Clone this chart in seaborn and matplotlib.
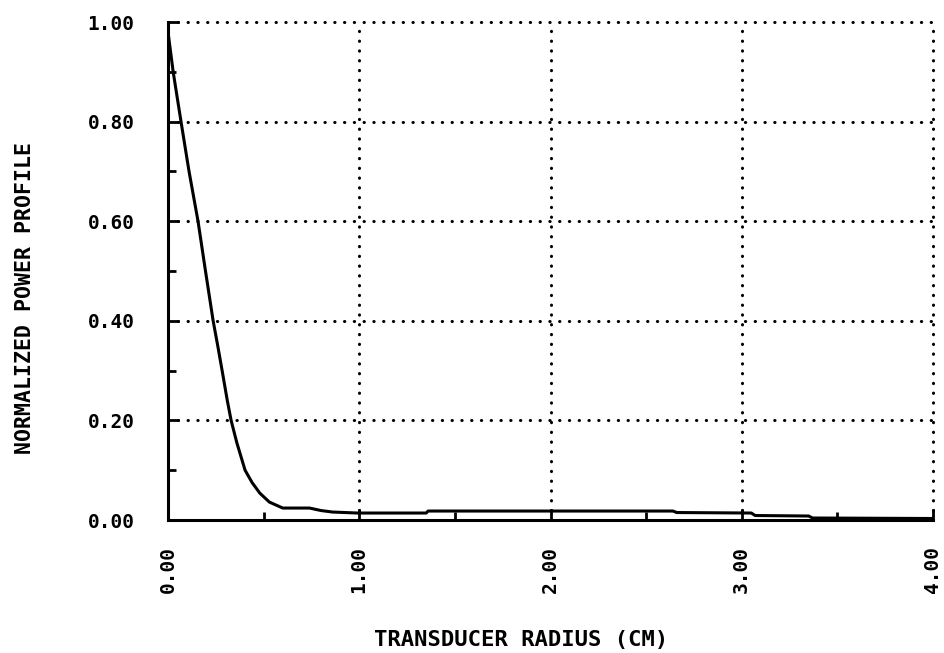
import matplotlib
matplotlib.use("Agg")
import matplotlib.pyplot as plt
from matplotlib.ticker import MultipleLocator, FormatStrFormatter
import seaborn as sns

# Radial power profile of the transducer
radius_cm = [0.0, 0.027, 0.068, 0.11, 0.157, 0.196, 0.236, 0.26, 0.283, 0.31,
             0.33, 0.36, 0.403, 0.44, 0.48, 0.53, 0.60, 0.74, 0.80, 0.86,
             0.99, 1.35, 1.36, 2.64, 2.66, 3.05, 3.07, 3.35, 3.37, 4.0]
power = [0.98, 0.90, 0.80, 0.70, 0.60, 0.50, 0.40, 0.35, 0.30, 0.24,
         0.20, 0.155, 0.10, 0.075, 0.054, 0.036, 0.024, 0.024, 0.019, 0.016,
         0.014, 0.014, 0.018, 0.018, 0.015, 0.014, 0.009, 0.008, 0.004, 0.003]

x_ticks = [0.0, 1.0, 2.0, 3.0, 4.0]
y_ticks = [0.0, 0.2, 0.4, 0.6, 0.8, 1.0]

sns.set_style("white")
plt.rcParams["font.family"] = ["DejaVu Sans Mono", "DejaVu Sans"]
plt.rcParams["font.weight"] = "bold"
plt.rcParams["text.color"] = "black"
plt.rcParams["axes.labelcolor"] = "black"
plt.rcParams["xtick.color"] = "black"
plt.rcParams["ytick.color"] = "black"

fig = plt.figure(figsize=(9.45, 6.53), dpi=100)
ax = fig.add_axes([168 / 945, 1 - 520 / 653, (933 - 168) / 945, (520 - 22) / 653])

sns.lineplot(x=radius_cm, y=power, color="black", linewidth=2.2,
             estimator=None, ax=ax)

ax.set_xlim(0, 4)
ax.set_ylim(0, 1)
ax.set_xticks(x_ticks)
ax.set_yticks(y_ticks)
ax.xaxis.set_minor_locator(MultipleLocator(0.5))
ax.yaxis.set_minor_locator(MultipleLocator(0.1))
ax.xaxis.set_major_formatter(FormatStrFormatter("%.2f"))
ax.yaxis.set_major_formatter(FormatStrFormatter("%.2f"))

ax.tick_params(axis="both", which="both", bottom=True, left=True,
               top=False, right=False)
ax.tick_params(axis="both", which="major", direction="in", length=8, width=2,
               labelsize=14, color="black", labelcolor="black")
ax.tick_params(axis="both", which="minor", direction="in", length=5.5, width=2,
               color="black")
ax.tick_params(axis="y", which="major", pad=24)
ax.tick_params(axis="x", which="major", pad=19, labelrotation=90)
for lab in ax.get_xticklabels() + ax.get_yticklabels():
    lab.set_fontweight("bold")

# Dotted grid; the lines at 1.0 and 4.0 close the frame
ax.grid(True, which="major", color="black", linestyle=(0, (0.1, 3.1)),
        linewidth=2.2, dash_capstyle="round")
for gl in ax.get_xgridlines() + ax.get_ygridlines():
    gl.set_clip_on(False)
ax.get_ygridlines()[0].set_visible(False)
ax.get_xgridlines()[0].set_visible(False)

for side in ("top", "right"):
    ax.spines[side].set_visible(False)
for side in ("left", "bottom"):
    ax.spines[side].set_linewidth(2.2)
    ax.spines[side].set_color("black")

ax.set_xlabel("TRANSDUCER RADIUS (CM)", fontsize=16, fontweight="bold")
ax.set_ylabel("NORMALIZED POWER PROFILE", fontsize=15.5, fontweight="bold")
ax.xaxis.set_label_coords(0.461, -0.241)
ax.xaxis.label.set_va("center")
ax.yaxis.set_label_coords(-0.187, 0.446)
ax.yaxis.label.set_va("center")

fig.savefig("out.png", dpi=100, facecolor="white")
